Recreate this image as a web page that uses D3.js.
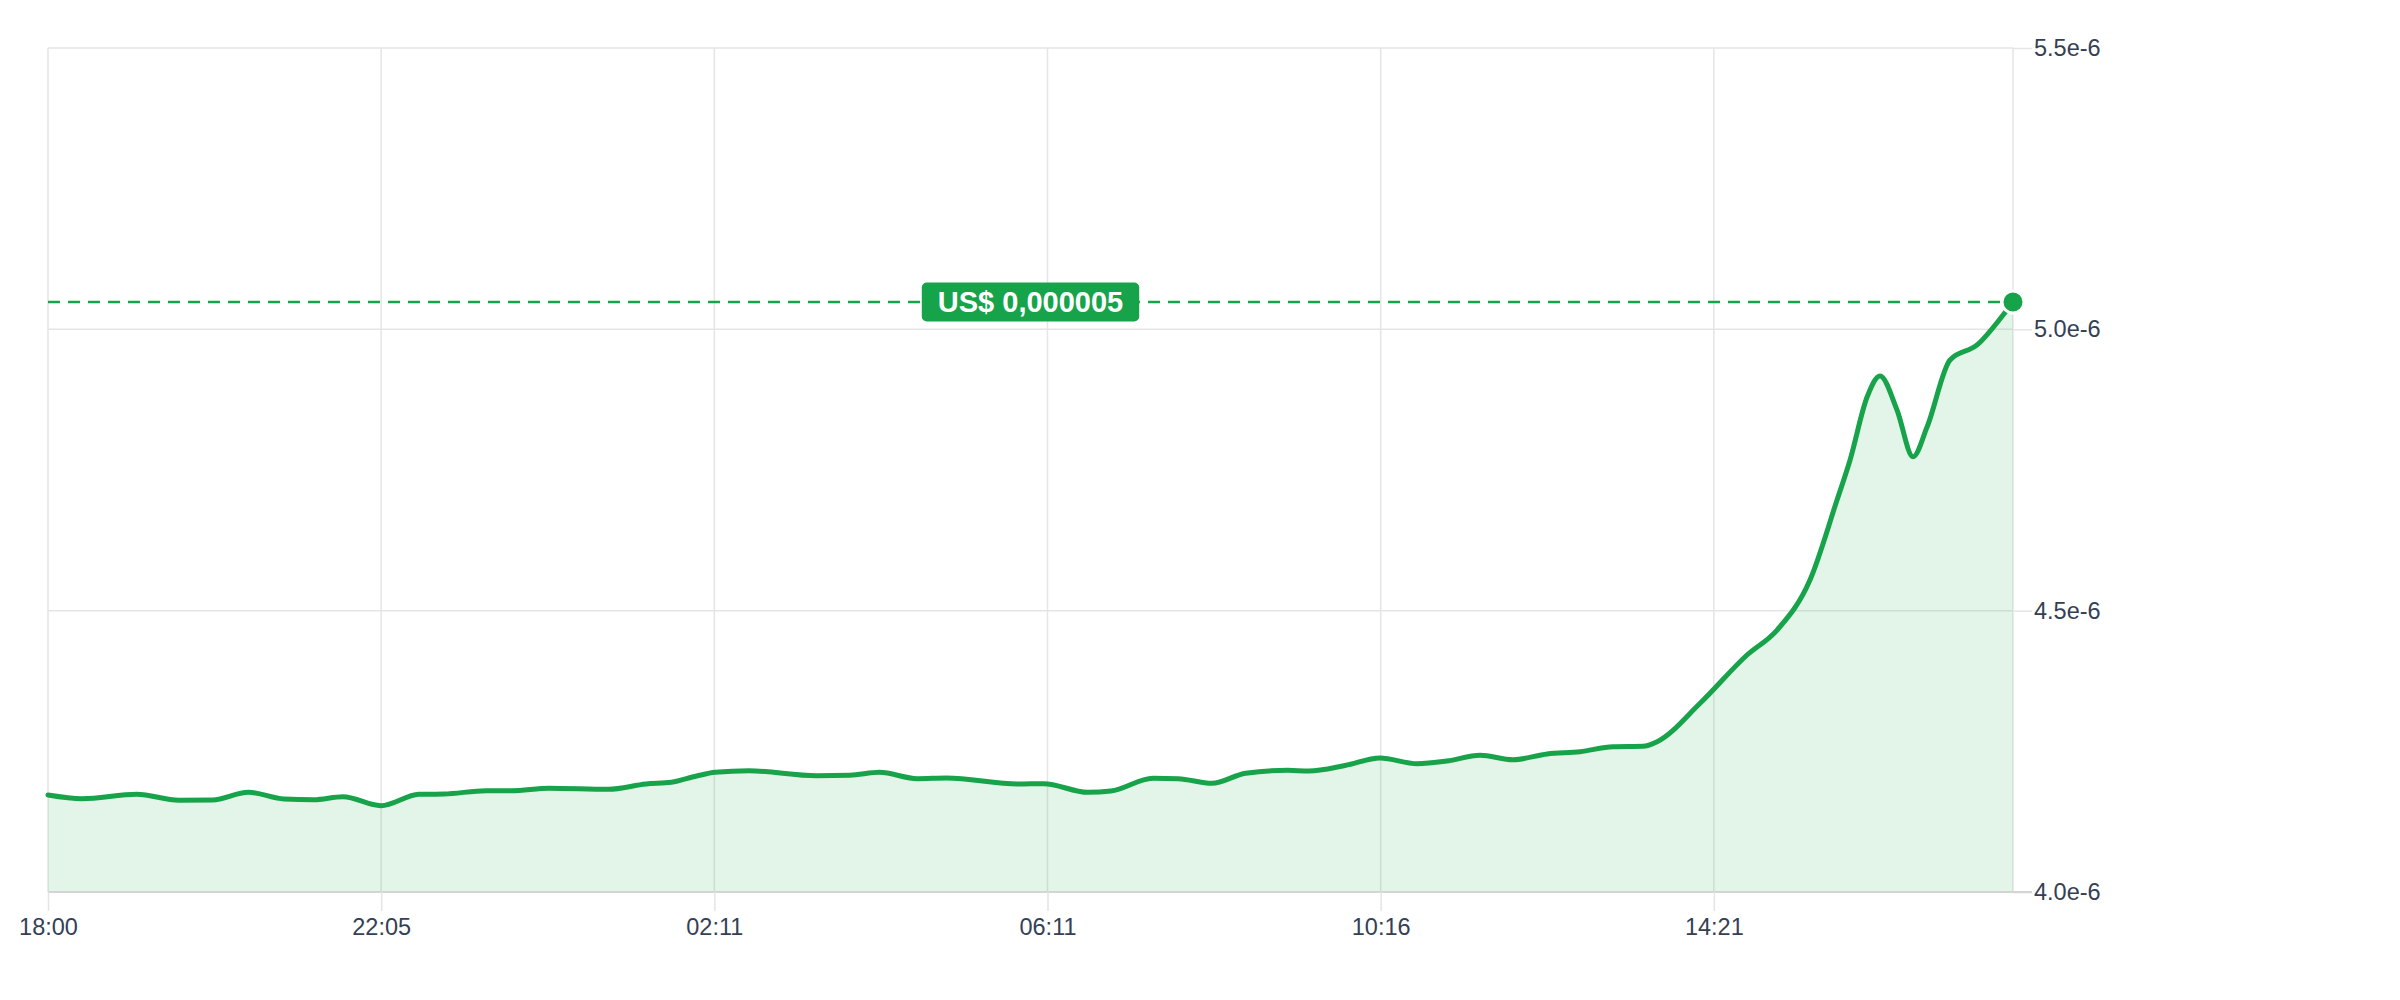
<!DOCTYPE html>
<html>
<head>
<meta charset="utf-8">
<script src="https://cdn.jsdelivr.net/npm/d3@7"></script>
<style>
  html, body { margin: 0; padding: 0; background: #fff; }
  svg { display: block; font-family: "Liberation Sans", Arial, sans-serif; }
  .axis text { fill: #344054; font-size: 23.5px; }
  .axis .domain { display: none; }
  .grid line { stroke: #e5e5e5; stroke-width: 1.5; }
</style>
</head>
<body>
<svg id="chart" width="2400" height="1000"></svg>
<script>
// Minutes since 18:00
const minutes = [
  0, 25.1, 65.3, 96.3, 121.0, 147.3, 173.6, 195.3, 216.9, 244.8,
  272.7, 291.2, 322.2, 340.8, 368.6, 412.0, 439.8, 458.4, 477.0, 490.7,
  515.4, 565.0, 589.7, 611.4, 639.3, 660.9, 713.5, 732.1, 764.6, 781.6,
  812.6, 831.1, 855.9, 880.7, 911.6, 927.1, 953.8, 979.5, 1006.8, 1028.8,
  1053.1, 1077.4, 1102.4, 1126.6, 1150.9, 1172.9, 1183.3, 1214.9, 1249.4, 1271.5,
  1295.7, 1315.6, 1325.2, 1337.7, 1347.2, 1359.7, 1371.5, 1381.8, 1398.7, 1418.6,
  1437.7, 1445
];

// Price in USD (x 1e-6)
const prices = [
  4.1724, 4.1658, 4.1736, 4.1630, 4.1635, 4.1772, 4.1653, 4.1640, 4.1694, 4.1534,
  4.1736, 4.1742, 4.1800, 4.1800, 4.1843, 4.1825, 4.1919, 4.1950, 4.2062, 4.2127,
  4.2156, 4.2067, 4.2074, 4.2127, 4.2014, 4.2026, 4.1919, 4.1925, 4.1772, 4.1795,
  4.2021, 4.2014, 4.1932, 4.2110, 4.2163, 4.2150, 4.2248, 4.2382, 4.2280, 4.2328,
  4.2430, 4.2351, 4.2453, 4.2493, 4.2582, 4.2589, 4.2671, 4.3354, 4.4212, 4.4656,
  4.5545, 4.6967, 4.7678, 4.8797, 4.9171, 4.8566, 4.7736, 4.8264, 4.9455, 4.9722,
  5.0255, 5.0486
].map((d) => d * 1e-6);

// Axis ticks. The x labels sit at even steps along the time axis.
const xTickMinutes = [0, 245, 490, 735, 980, 1225];
const xTickLabels = ['18:00', '22:05', '02:11', '06:11', '10:16', '14:21'];
const yTicks = [4.0e-6, 4.5e-6, 5.0e-6, 5.5e-6];

const data = minutes.map((m, i) => ({ t: m, v: prices[i] }));

const margin = { top: 48, right: 387, bottom: 108, left: 48 };
const width = 2400;
const height = 1000;
const chartWidth = width - margin.left - margin.right;
const chartHeight = height - margin.top - margin.bottom;

const green = '#17a34a';

const svg = d3.select('#chart');
const chart = svg.append('g')
  .attr('transform', `translate(${margin.left}, ${margin.top})`);

const xScale = d3.scaleLinear()
  .domain([0, 1445])
  .range([0, chartWidth]);

const yScale = d3.scaleLinear()
  .domain([4.0e-6, 5.5e-6])
  .range([chartHeight, 0]);

// Grid lines go under the translucent area fill
const grid = chart.append('g').attr('class', 'grid');

grid.selectAll('.h')
  .data(yTicks)
  .join('line')
  .attr('class', 'h')
  .attr('x1', 0)
  .attr('x2', chartWidth)
  .attr('y1', (d) => yScale(d))
  .attr('y2', (d) => yScale(d));

grid.selectAll('.v')
  .data(xTickMinutes.concat([xScale.domain()[1]]))
  .join('line')
  .attr('class', 'v')
  .attr('x1', (d) => xScale(d))
  .attr('x2', (d) => xScale(d))
  .attr('y1', 0)
  .attr('y2', chartHeight);

// Area + line
const area = d3.area()
  .x((d) => xScale(d.t))
  .y0(chartHeight)
  .y1((d) => yScale(d.v))
  .curve(d3.curveMonotoneX);

const line = d3.line()
  .x((d) => xScale(d.t))
  .y((d) => yScale(d.v))
  .curve(d3.curveMonotoneX);

chart.append('path')
  .datum(data)
  .attr('d', area)
  .attr('fill', green)
  .attr('fill-opacity', 0.12);

// Bottom baseline
chart.append('line')
  .attr('x1', 0)
  .attr('x2', chartWidth + 19)
  .attr('y1', chartHeight)
  .attr('y2', chartHeight)
  .attr('stroke', '#d4d4d4')
  .attr('stroke-width', 2);

chart.append('path')
  .datum(data)
  .attr('d', line)
  .attr('fill', 'none')
  .attr('stroke', green)
  .attr('stroke-width', 5)
  .attr('stroke-linejoin', 'round')
  .attr('stroke-linecap', 'round');

// Axes
const xAxis = d3.axisBottom(xScale)
  .tickValues(xTickMinutes)
  .tickFormat((d, i) => xTickLabels[i])
  .tickSize(19)
  .tickPadding(7);

const xAxisElement = chart.append('g')
  .attr('class', 'x axis')
  .attr('transform', `translate(0, ${chartHeight})`)
  .call(xAxis);

xAxisElement.selectAll('.tick line')
  .attr('stroke', '#e5e5e5')
  .attr('stroke-width', 1.5);

const yAxis = d3.axisRight(yScale)
  .tickValues(yTicks)
  .tickFormat(d3.format('.1e'))
  .tickSize(19)
  .tickPadding(2);

const yAxisElement = chart.append('g')
  .attr('class', 'y axis')
  .attr('transform', `translate(${chartWidth}, 0)`)
  .call(yAxis);

yAxisElement.selectAll('.tick line')
  .attr('stroke', (d) => d === yTicks[0] ? '#d4d4d4' : '#e5e5e5')
  .attr('stroke-width', 1.5);

// Current price marker
const last = data[data.length - 1];
const lastY = yScale(last.v);

chart.append('line')
  .attr('x1', 0)
  .attr('x2', xScale(last.t))
  .attr('y1', lastY)
  .attr('y2', lastY)
  .attr('stroke', green)
  .attr('stroke-width', 2.5)
  .attr('stroke-dasharray', '12 8');

chart.append('circle')
  .attr('cx', xScale(last.t))
  .attr('cy', lastY)
  .attr('r', 11)
  .attr('fill', green)
  .attr('stroke', '#fff')
  .attr('stroke-width', 3);

// Price badge in the middle of the chart
const badgeText = 'US$ ' + (last.v).toFixed(6).replace('.', ',');
const badge = chart.append('g')
  .attr('transform', `translate(${chartWidth / 2}, ${lastY})`);

const badgeLabel = badge.append('text')
  .attr('text-anchor', 'middle')
  .attr('dy', '0.36em')
  .attr('fill', '#fff')
  .attr('font-size', 29)
  .attr('font-weight', 'bold')
  .text(badgeText);

const bb = badgeLabel.node().getBBox();
badge.insert('rect', 'text')
  .attr('x', -bb.width / 2 - 16)
  .attr('y', -19.5)
  .attr('width', bb.width + 32)
  .attr('height', 39)
  .attr('rx', 5)
  .attr('fill', green);
</script>
</body>
</html>
